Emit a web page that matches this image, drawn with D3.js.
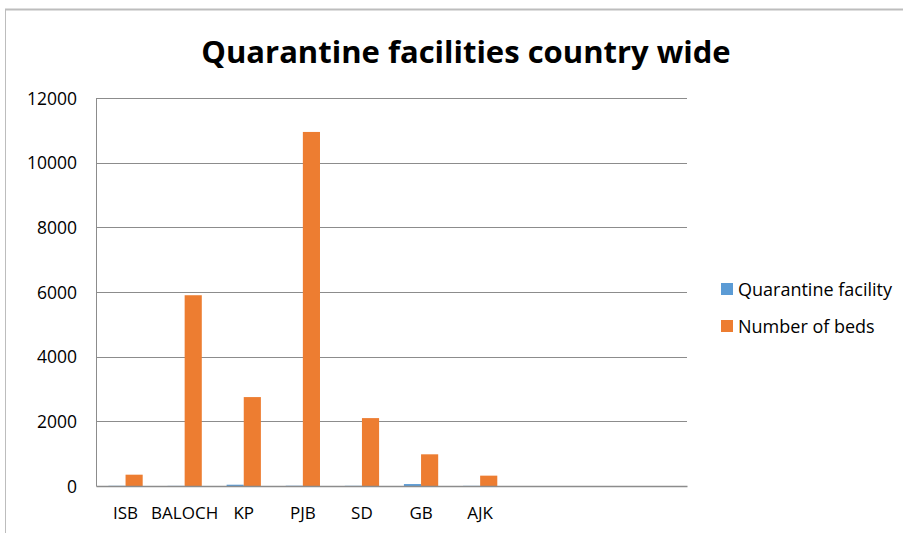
<!DOCTYPE html>
<html>
<head>
<meta charset="utf-8">
<script src="https://cdn.jsdelivr.net/npm/d3@7"></script>
<style>
  body { margin: 0; background: #fff; }
  text { font-family: "Open Sans", "Liberation Sans", sans-serif; fill: #000; }
</style>
</head>
<body>
<div class="chart"></div>
<script>
// categories (last three slots are empty in the original sheet)
const categories = ["ISB", "BALOCH", "KP", "PJB", "SD", "GB", "AJK", "", " ", "  "];
const seriesNames = ["Quarantine facility", "Number of beds"];
const facilities = [6, 4, 40, 8, 6, 60, 5, null, null, null];
const beds = [350, 5900, 2750, 10950, 2100, 980, 320, null, null, null];
const yTicks = [0, 2000, 4000, 6000, 8000, 10000, 12000];
const colors = ["#5B9BD5", "#ED7D31"];

var W = 903, H = 533;
var margin = {top: 98, right: 216, bottom: 47, left: 96};
var width = W - margin.left - margin.right,
    height = H - margin.top - margin.bottom;

var svg = d3.select(".chart").append("svg")
    .attr("width", W)
    .attr("height", H);

// cadre
svg.append("line")
    .attr("x1", 5).attr("x2", W).attr("y1", 9.5).attr("y2", 9.5)
    .attr("stroke", "#bdbdbd").attr("stroke-width", 2);
svg.append("line")
    .attr("x1", 5.5).attr("x2", 5.5).attr("y1", 9).attr("y2", H)
    .attr("stroke", "#bdbdbd").attr("stroke-width", 1);

// titre
svg.append("text")
    .attr("x", 466)
    .attr("y", 63)
    .attr("text-anchor", "middle")
    .style("font-size", "31px")
    .style("font-weight", "bold")
    .text("Quarantine facilities country wide");

var g = svg.append("g")
    .attr("transform", "translate(" + margin.left + "," + margin.top + ")");

var x = d3.scaleBand().domain(categories).range([0, width]).paddingInner(0).paddingOuter(0);
var x1 = d3.scaleBand().domain(seriesNames).range([x.bandwidth() * 0.21, x.bandwidth() * 0.79]).padding(0);
var y = d3.scaleLinear().domain([0, 12000]).range([height, 0]);

// grille
g.selectAll(".grid")
    .data(yTicks.filter(function(d) { return d > 0; }))
    .enter().append("line")
    .attr("x1", 0).attr("x2", width)
    .attr("y1", function(d) { return Math.round(y(d)) + 0.5; })
    .attr("y2", function(d) { return Math.round(y(d)) + 0.5; })
    .attr("stroke", "#8c8c8c");

// axe Y
var yAxis = d3.axisLeft(y).tickValues(yTicks).tickFormat(d3.format("d")).tickSize(0).tickPadding(19);
g.append("g")
    .call(yAxis)
    .call(function(s) { s.select(".domain").attr("stroke", "#8c8c8c"); })
    .selectAll("text")
    .style("font-size", "17.5px")
    .attr("dy", "0.35em");

// barres
var groups = g.selectAll(".cat")
    .data(categories.map(function(c, i) { return {cat: c, vals: [facilities[i], beds[i]]}; }))
    .enter().append("g")
    .attr("transform", function(d) { return "translate(" + x(d.cat) + ",0)"; });

groups.selectAll("rect")
    .data(function(d) { return d.vals.map(function(v, j) { return {key: seriesNames[j], value: v, j: j}; }); })
    .enter().append("rect")
    .filter(function(d) { return d.value != null; })
    .attr("x", function(d) { return x1(d.key); })
    .attr("width", x1.bandwidth())
    .attr("y", function(d) { return y(d.value); })
    .attr("height", function(d) { return height - y(d.value); })
    .attr("fill", function(d) { return colors[d.j]; });

// axe X
var xAxis = d3.axisBottom(x).tickSize(0).tickPadding(21);
g.append("g")
    .attr("transform", "translate(0," + height + ")")
    .call(xAxis)
    .call(function(s) { s.select(".domain").attr("stroke", "#8c8c8c").attr("stroke-width", 1.5); })
    .selectAll("text")
    .style("font-size", "17px");

// légende
var legend = svg.selectAll(".legend")
    .data(seriesNames)
    .enter().append("g")
    .attr("transform", function(_, i) { return "translate(721," + (283 + i * 37) + ")"; });

legend.append("rect")
    .attr("width", 12).attr("height", 12)
    .attr("fill", function(_, i) { return colors[i]; });

legend.append("text")
    .attr("x", 17)
    .attr("y", 12.5)
    .style("font-size", "18px")
    .text(function(d) { return d; });
</script>
</body>
</html>
